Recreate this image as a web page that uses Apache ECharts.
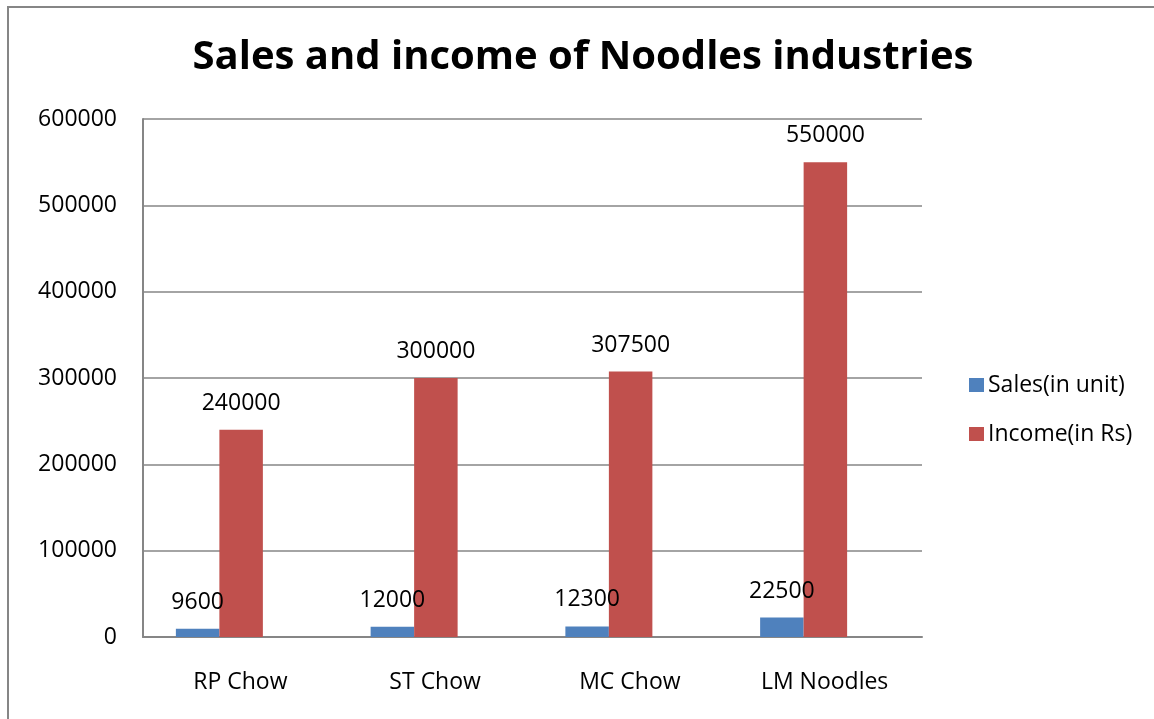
<!DOCTYPE html>
<html>
<head>
<meta charset="utf-8">
<script src="https://cdn.jsdelivr.net/npm/echarts@6/dist/echarts.min.js"></script>
<style>
  html, body { margin: 0; padding: 0; background: #fff; }
  #frame {
    position: absolute; left: 7px; top: 6px; width: 1160px; height: 730px;
    border-left: 2px solid #868686; border-top: 2px solid #868686;
    box-sizing: border-box;
  }
  #chart { position: absolute; left: 0; top: 0; width: 1154px; height: 719px; }
</style>
</head>
<body>
<div id="frame"></div>
<div id="chart"></div>
<script>
// Companies and their figures
const categories = ['RP Chow', 'ST Chow', 'MC Chow', 'LM Noodles'];
const salesUnits = [9600, 12000, 12300, 22500];
const incomeRs = [240000, 300000, 307500, 550000];
const seriesNames = ['Sales(in unit)', 'Income(in Rs)'];
const yMin = 0, yMax = 600000, yStep = 100000;

const FONT = '"Open Sans", "Liberation Sans", sans-serif';
const AXIS_GRAY = '#868686';
const BLUE = '#4F81BD';
const RED = '#C0504D';

const chart = echarts.init(document.getElementById('chart'), null, { renderer: 'canvas' });

const valueLabel = {
  show: true,
  position: 'top',
  distance: 15,
  color: '#000',
  fontFamily: FONT,
  fontSize: 23,
  lineHeight: 23
};

chart.setOption({
  backgroundColor: 'transparent',
  animation: false,
  title: {
    text: 'Sales and income of Noodles industries',
    left: 578,
    textAlign: 'center',
    top: 33,
    textStyle: { fontFamily: FONT, fontWeight: 'bold', fontSize: 40, color: '#000' }
  },
  legend: {
    orient: 'vertical',
    left: 964,
    top: 368,
    itemWidth: 15,
    itemHeight: 14,
    itemGap: 25,
    icon: 'rect',
    data: seriesNames,
    textStyle: { fontFamily: FONT, fontSize: 23, lineHeight: 24, color: '#000', padding: [0, 0, 0, -1] }
  },
  grid: [
    // frame for axes, gridlines and category labels
    { left: 143, top: 119, width: 779, height: 518, containLabel: false },
    // bars sit slightly left of their category labels
    { left: 122, top: 119, width: 779, height: 518, containLabel: false }
  ],
  xAxis: [
    {
      type: 'category', gridIndex: 0, data: categories,
      axisLine: { show: true, lineStyle: { color: AXIS_GRAY, width: 2 } },
      axisTick: { show: false },
      axisLabel: { margin: 34, color: '#000', fontFamily: FONT, fontSize: 23, lineHeight: 23 },
      splitLine: { show: false }
    },
    {
      type: 'category', gridIndex: 1, data: categories,
      axisLine: { show: false }, axisTick: { show: false }, axisLabel: { show: false }
    }
  ],
  yAxis: [
    {
      type: 'value', gridIndex: 0, min: yMin, max: yMax, interval: yStep,
      axisLine: { show: true, lineStyle: { color: AXIS_GRAY, width: 2 } },
      axisTick: { show: false },
      axisLabel: {
        margin: 26, color: '#000', fontFamily: FONT, fontSize: 23,
        formatter: v => String(v)
      },
      splitLine: { show: true, lineStyle: { color: AXIS_GRAY, width: 1.5 } }
    },
    {
      type: 'value', gridIndex: 1, min: yMin, max: yMax, interval: yStep,
      axisLine: { show: false }, axisTick: { show: false }, axisLabel: { show: false },
      splitLine: { show: false }
    }
  ],
  series: [
    {
      name: seriesNames[0], type: 'bar', xAxisIndex: 1, yAxisIndex: 1,
      data: salesUnits, barWidth: 43.5, barGap: '0%',
      itemStyle: { color: BLUE }, label: valueLabel
    },
    {
      name: seriesNames[1], type: 'bar', xAxisIndex: 1, yAxisIndex: 1,
      data: incomeRs, barWidth: 43.5, barGap: '0%',
      itemStyle: { color: RED }, label: valueLabel
    }
  ]
});
</script>
</body>
</html>
